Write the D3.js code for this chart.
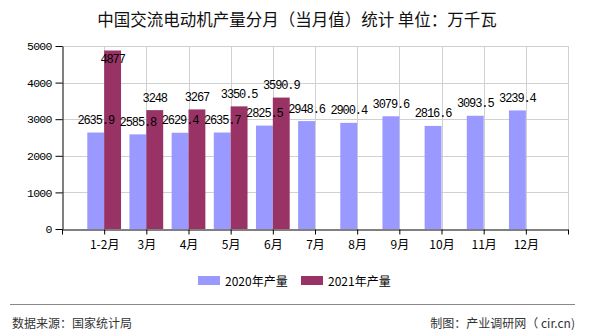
<!DOCTYPE html>
<html><head><meta charset="utf-8">
<script src="https://cdn.jsdelivr.net/npm/d3@7/dist/d3.min.js"></script>
<style>
body{margin:0;background:#fff;}
svg{display:block;}
</style></head>
<body><svg id="c" width="590" height="330"></svg>
<script>
const categories = ["1-2月","3月","4月","5月","6月","7月","8月","9月","10月","11月","12月"];
const values2020 = [2635.9,2585.8,2629.4,2635.7,2825.5,2948.6,2900.4,3079.6,2816.6,3093.5,3239.4];
const values2021 = [4877,3248,3267,3350.5,3590.9];
const seriesNames = ["2020年产量","2021年产量"];
const colors = ["#9999ff","#993366"];
const yTicks = [0,1000,2000,3000,4000,5000];
const title = "中国交流电动机产量分月（当月值）统计 单位：万千瓦";

const svg = d3.select("#c");
const L=62, R=568, T=46, B=229;
const x = d3.scaleLinear().domain([0,categories.length+1]).range([L,R]);
const y = d3.scaleLinear().domain([0,5000]).range([B,T]);
const step = x(1)-x(0);
const bw = step*0.4;
const mono = "'Liberation Mono','DejaVu Sans Mono',monospace";
const cjk = "'Noto Sans CJK SC','Noto Sans',sans-serif";

svg.append("text").attr("x",297).attr("y",26).attr("text-anchor","middle")
  .attr("font-family",cjk).attr("font-size",16.5).attr("fill","#111").text(title);

// grid
const g = svg.append("g");
g.selectAll(".hg").data(yTicks.filter(d=>d>0)).join("line")
  .attr("x1",L).attr("x2",R).attr("y1",d=>Math.round(y(d))+0.5).attr("y2",d=>Math.round(y(d))+0.5)
  .attr("stroke","#d0d0d0").attr("stroke-width",1);
g.selectAll(".vg").data(d3.range(1,categories.length+2)).join("line")
  .attr("x1",d=>Math.round(x(d))+0.5).attr("x2",d=>Math.round(x(d))+0.5).attr("y1",T).attr("y2",B)
  .attr("stroke","#d0d0d0").attr("stroke-width",1);

// bars
svg.append("g").selectAll("rect").data(values2020).join("rect")
  .attr("x",(d,i)=>x(i+1)-bw).attr("width",bw)
  .attr("y",d=>y(d)).attr("height",d=>B-y(d)).attr("fill",colors[0]);
svg.append("g").selectAll("rect").data(values2021).join("rect")
  .attr("x",(d,i)=>x(i+1)).attr("width",bw)
  .attr("y",d=>y(d)).attr("height",d=>B-y(d)).attr("fill",colors[1]);

// axes
const ya = d3.axisLeft(y).tickValues(yTicks).tickSize(7).tickSizeOuter(0).tickFormat(d3.format("d"));
const yg = svg.append("g").attr("transform",`translate(${L+0.5},0)`).call(ya);
yg.select(".domain").attr("stroke","#000");
yg.selectAll("text").attr("font-family",mono).attr("font-size",11.5).attr("letter-spacing","-0.8").attr("fill","#000").attr("dx",-1);
const xa = d3.axisBottom(x).tickValues(d3.range(0,categories.length+2)).tickSize(5).tickSizeOuter(0)
  .tickFormat(d=> (d>=1 && d<=categories.length)? categories[d-1] : "");
const xg = svg.append("g").attr("transform",`translate(0,${B+0.5})`).call(xa);
xg.select(".domain").attr("stroke","#000");
xg.selectAll("text").attr("font-family",cjk).attr("font-size",12).attr("fill","#000").attr("dy","0.95em");

// labels
const lab = svg.append("g").attr("font-family",mono).attr("font-size",12).attr("letter-spacing","-1.1").attr("fill","#000").attr("text-anchor","middle");
const ly = v => Math.max(y(v)-8.5, T+17);
lab.selectAll(".a").data(values2020).join("text").attr("x",(d,i)=>x(i+1)-bw/2).attr("y",d=>ly(d)).text(d=>d);
lab.selectAll(".b").data(values2021).join("text").attr("x",(d,i)=>x(i+1)+bw/2).attr("y",d=>ly(d)).text(d=>d);

// legend
const lg = svg.append("g");
[[198,seriesNames[0],colors[0]],[301,seriesNames[1],colors[1]]].forEach(([lx,t,c])=>{
  lg.append("rect").attr("x",lx).attr("y",276).attr("width",22).attr("height",9).attr("fill",c);
  lg.append("text").attr("x",lx+27).attr("y",286).attr("font-family",cjk).attr("font-size",12).attr("fill","#000").text(t);
});

svg.append("line").attr("x1",10).attr("x2",575).attr("y1",304.5).attr("y2",304.5).attr("stroke","#888").attr("stroke-width",1);
svg.append("text").attr("x",12).attr("y",328).attr("font-family",cjk).attr("font-size",12).attr("fill","#333").text("数据来源：国家统计局");
svg.append("text").attr("x",575).attr("y",328).attr("text-anchor","end").attr("font-family",cjk).attr("font-size",12).attr("fill","#333").text("制图：产业调研网（ cir.cn)");
</script></body></html>
